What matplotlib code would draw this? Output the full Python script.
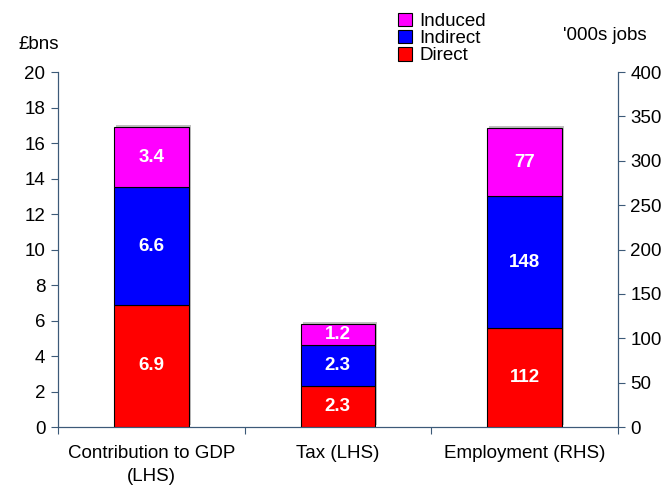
import numpy as np
import matplotlib
matplotlib.use("Agg")
import matplotlib.pyplot as plt
import matplotlib.patheffects as pe
from matplotlib.patches import Patch

plt.rcParams['font.family'] = ['Liberation Sans', 'DejaVu Sans']

categories = ["Contribution to GDP\n(LHS)", "Tax (LHS)", "Employment (RHS)"]
series = ["Direct", "Indirect", "Induced"]
colors = ["#ff0000", "#0000ff", "#ff00ff"]

# £bns, left axis
lhs_direct = [6.9, 2.3]
lhs_indirect = [6.6, 2.3]
lhs_induced = [3.4, 1.2]
# '000s jobs, right axis
rhs_direct = [112]
rhs_indirect = [148]
rhs_induced = [77]

spine_col = "#3c5a78"
bar_w = 0.4
fs = 13.5

fig = plt.figure(figsize=(6.68, 4.87), dpi=100)
ax = fig.add_axes([0.0868, 0.123, 0.838, 0.729])
ax2 = ax.twinx()

shadow = [pe.SimplePatchShadow(offset=(1.5, 1.5), shadow_rgbFace="gray", alpha=0.5),
          pe.Normal()]

def stack(axis, xs, layers, fmt):
    bottom = np.zeros(len(xs))
    for vals, c in zip(layers, colors):
        vals = np.array(vals, dtype=float)
        bars = axis.bar(xs, vals, bar_w, bottom=bottom, color=c,
                        edgecolor="black", linewidth=0.8, zorder=3)
        for b in bars:
            b.set_path_effects(shadow)
        for x, v, b in zip(xs, vals, bottom):
            axis.text(x, b + v / 2, fmt(v), ha="center", va="center",
                      color="white", fontsize=fs, fontweight="bold", zorder=4)
        bottom += vals

stack(ax, [0, 1], [lhs_direct, lhs_indirect, lhs_induced], lambda v: f"{v:.1f}")
stack(ax2, [2], [rhs_direct, rhs_indirect, rhs_induced], lambda v: f"{v:.0f}")

ax.set_xlim(-0.5, 2.5)
ax.set_ylim(0, 20)
ax2.set_ylim(0, 400)
ax.set_yticks(np.arange(0, 21, 2))
ax2.set_yticks(np.arange(0, 401, 50))

# category boundaries as tick marks, names centred under the bars
ax.set_xticks([-0.5, 0.5, 1.5, 2.5])
ax.set_xticklabels([])
ax.set_xticks([0, 1, 2], minor=True)
ax.set_xticklabels(categories, minor=True, fontsize=fs, linespacing=1.45)
ax.tick_params(axis="x", which="minor", length=0, pad=13)
ax.tick_params(axis="x", which="major", length=5, color=spine_col)

for a in (ax, ax2):
    a.spines["top"].set_visible(False)
    for s in ("left", "right", "bottom"):
        a.spines[s].set_color(spine_col)
    a.tick_params(axis="y", length=5, color=spine_col, labelsize=fs, pad=4)

fig.text(0.027, 0.909, "£bns", fontsize=fs, ha="left", va="center")
fig.text(0.843, 0.927, "'000s jobs", fontsize=fs, ha="left", va="center")

handles = [Patch(facecolor=c, edgecolor="black", linewidth=0.8) for c in colors]
leg = fig.legend(handles[::-1], series[::-1], loc="upper left",
                 bbox_to_anchor=(0.579, 0.997), frameon=False, fontsize=fs,
                 handlelength=0.75, handleheight=0.75, handletextpad=0.4,
                 labelspacing=-0.02, borderaxespad=0.2)

fig.savefig("out.png", dpi=100)
